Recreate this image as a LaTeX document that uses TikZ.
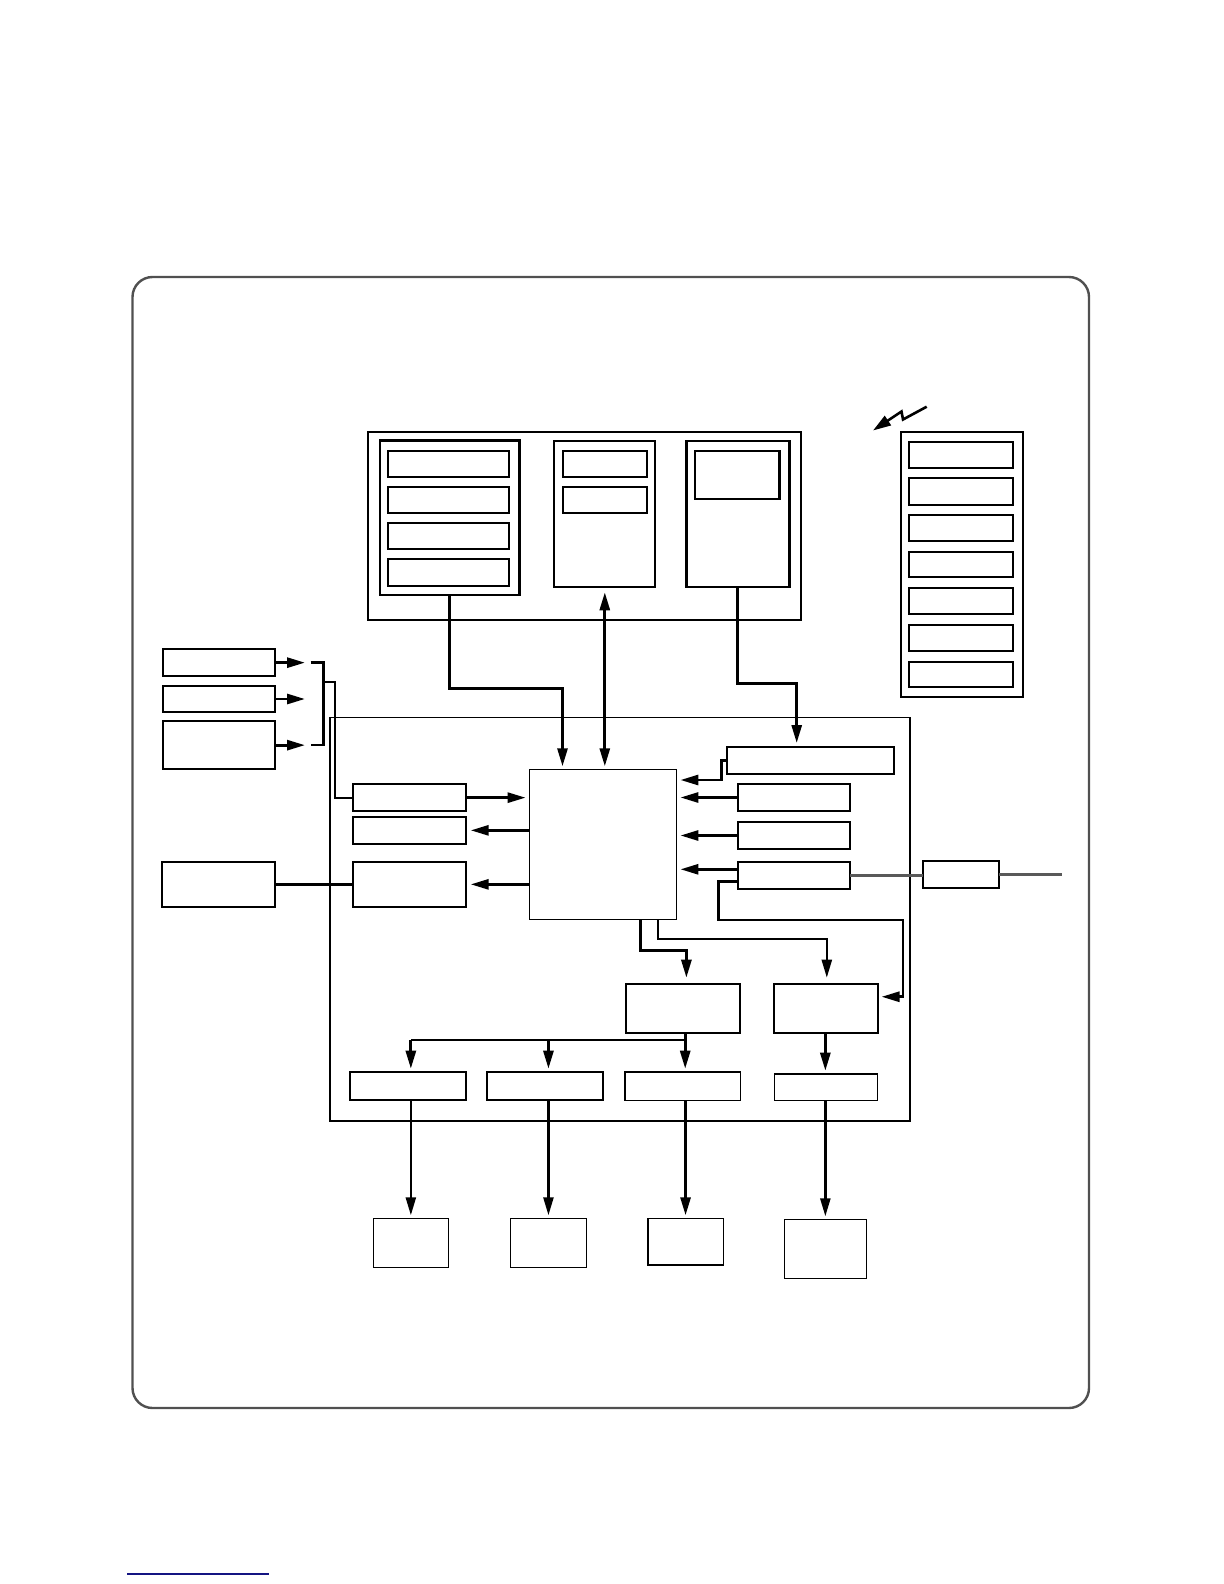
\documentclass[tikz,border=0pt]{standalone}
\usetikzlibrary{arrows.meta}
\definecolor{linkblue}{RGB}{20,20,130}
\definecolor{framegray}{RGB}{80,80,80}
\newcommand\bx[6][]{%
  \node[box,#1,minimum width={(#5-#3)*0.5pt},minimum height={(#6-#4)*0.5pt}] (#2) at ({(#3+#5)/2},{(#4+#6)/2}) {};}
\begin{document}
\begin{tikzpicture}[x=0.5pt,y=-0.5pt,
  box/.style={draw,line width=1pt,inner sep=0pt,outer sep=0pt},
  thinbox/.style={box,line width=0.7pt},
  conn/.style={line width=1.4pt},
  arr/.style={conn,-{Triangle[length=9pt,width=5pt]}},
  darr/.style={conn,{Triangle[length=9pt,width=5pt]}-{Triangle[length=9pt,width=5pt]}},
  gap/.style={shorten >=1.5pt},
  grayline/.style={line width=1.2pt,draw=black!65}]
\useasboundingbox (0,0) rectangle (1224,1584);

% outer frame
\draw[rounded corners=10pt,line width=1.2pt,draw=framegray] (132.5,277) rectangle (1089,1408);

% main container
\bx[line width=0.6pt]{main}{330}{717.3}{910}{1121}
\draw[line width=1.3pt] (main.north east) -- (main.south east) -- (main.south west);

% top block
\bx[line width=0.9pt]{T}{367.7}{432.3}{800.7}{620}
\bx[line width=1.3pt]{G1}{380}{440.7}{519.3}{595}
\bx{G1a}{388.3}{450.7}{509}{476.7}
\bx{G1b}{388.3}{486.7}{509}{513.3}
\bx{G1c}{388.3}{523.3}{509}{549.3}
\bx{G1d}{388.3}{559.3}{509}{585.7}
\bx{G2}{554.3}{440.7}{655.3}{586.7}
\bx{G2a}{563.3}{450.7}{646.7}{476.7}
\bx{G2b}{563.3}{486.7}{646.7}{513.3}
\bx[line width=1.2pt]{G3}{686.3}{440.7}{789.3}{586.7}
\bx[line width=1.2pt]{G3a}{694.7}{450.7}{779.3}{499}

% right panel
\bx[line width=0.9pt]{P}{901}{431.7}{1022.7}{697}
\bx{P1}{909.3}{441.7}{1012.7}{468.3}
\bx{P2}{909.3}{478.3}{1012.7}{505}
\bx{P3}{909.3}{515}{1012.7}{541}
\bx{P4}{909.3}{551.7}{1012.7}{577.3}
\bx{P5}{909.3}{588.3}{1012.7}{614.3}
\bx{P6}{909.3}{625}{1012.7}{651}
\bx{P7}{909.3}{661.7}{1012.7}{687}

% lightning
\coordinate (z1) at (926.7,406.7);
\coordinate (z2) at (903,419.5);
\coordinate (z3) at (901.5,411.5);
\coordinate (z4) at (873,430.5);
\draw[line width=1.3pt,-{Triangle[length=9pt,width=5.5pt]}] (z1) -- (z2) -- (z3) -- (z4);

% left boxes
\bx{L1}{163.3}{649.3}{275.3}{676}
\bx{L2}{163.3}{685.7}{275.3}{712.3}
\bx{L3}{163.3}{721.3}{275.3}{769}
\bx{L4}{161.7}{861.7}{275}{907}

% middle-left boxes
\bx{M1}{352.7}{784}{466.3}{811.3}
\bx{M2}{352.7}{816.7}{466.3}{844}
\bx{M3}{352.7}{861.7}{466.3}{907}

% centre
\bx[line width=0.8pt]{C}{529.6}{769.3}{676.4}{919.3}

% right boxes
\bx{R1}{726.8}{747}{894.3}{773.7}
\bx{R2}{737.9}{783.7}{850.4}{811.3}
\bx{R3}{737.9}{822}{850.4}{849}
\bx{R4}{737.9}{862}{850.4}{889}
\bx{R5}{923.2}{860.7}{999.3}{888}

% lower boxes
\bx{A}{626}{983.7}{740.3}{1033}
\bx{B}{774.3}{983.7}{877.5}{1033}
\bx{C1}{349.6}{1071.7}{466.1}{1100.3}
\bx{C2}{486.9}{1071.7}{603}{1100.3}
\bx[line width=0.8pt]{C3}{624.9}{1071.7}{740.3}{1100.3}
\bx[line width=0.8pt]{C4}{774.3}{1073.7}{877.5}{1100.3}
\bx[line width=0.8pt]{D1}{373.3}{1218.3}{448.4}{1267.3}
\bx[line width=0.8pt]{D2}{510.5}{1218.3}{586.4}{1267.3}
\bx[line width=0.8pt]{D3}{647.8}{1218.3}{723.3}{1265}
\bx[line width=0.8pt]{D4}{784.3}{1219.3}{866.4}{1278.3}

% connectors: top block to centre
\coordinate (k1) at (562.5,688.3);
\draw[arr,gap] (G1.south) |- (k1) -- (k1 |- C.north);
\draw[darr,shorten <=2.8pt,shorten >=1.5pt] (G2.south) -- (G2.south |- C.north);
\coordinate (k3) at (796.7,683.7);
\draw[arr,shorten >=2pt] (G3.south) |- (k3) -- (k3 |- R1.north);

% right boxes to centre
\coordinate (k4) at (721.4,780);
\draw[arr,shorten >=2pt] (R1.west) -| (k4) -- (k4 -| C.east);
\draw[arr,shorten >=2pt] (R2.west) -- (R2.west -| C.east);
\draw[arr,shorten >=2pt] (R3.west) -- (R3.west -| C.east);
\draw[arr,shorten >=2pt] ([yshift=3.1pt]R4.west) -- ([yshift=3.1pt]R4.west -| C.east);

% left side
\draw[arr,shorten >=2pt] (M1.east) -- (M1.east -| C.west);
\draw[arr,shorten >=2.2pt] (M2.east -| C.west) -- (M2.east);
\draw[arr,shorten >=2.2pt] (M3.east -| C.west) -- (M3.east);
\draw[conn] (L4.east) -- (M3.west);

\coordinate (la) at (305,0);
\draw[arr] (L1.east) -- (L1.east -| la);
\draw[arr] (L2.east) -- (L2.east -| la);
\draw[arr] (L3.east) -- (L3.east -| la);
\coordinate (b1) at (310.7,662.3);
\coordinate (b2) at (323.3,745);
\coordinate (b3) at (310.7,745);
\draw[conn] (b1) -| (b2) -- (b3);
\coordinate (bm) at (323.3,682.3);
\coordinate (k5) at (335,0);
\draw[line width=0.9pt] (bm) -| (k5 |- M1.west) -- (M1.west);

% centre to lower boxes
\coordinate (k6) at (640.4,950.7);
\coordinate (k6b) at (686.4,950.7);
\draw[arr,shorten >=3pt] (C.south -| k6) -- (k6) -- (k6b) -- (k6b |- A.north);
\coordinate (k7) at (658.2,938.7);
\coordinate (k7b) at (826.8,938.7);
\draw[line width=1.2pt,-{Triangle[length=9pt,width=5pt]},shorten >=3pt] (C.south -| k7) -- (k7) -- (k7b) -- (k7b |- B.north);

% R4 loop to B
\coordinate (k8) at (718.2,920);
\coordinate (k8b) at (902.9,920);
\draw[arr,shorten >=2pt] ([yshift=-3.1pt]R4.west) -| (k8) -- (k8b) |- ([yshift=5.8pt]B.east);

% R4 to R5 and beyond
\coordinate (gend) at (1061.8,0);
\draw[grayline] (R4.east) -- (R4.east -| R5.west);
\draw[grayline] (R5.east) -- (R5.east -| gend);

% bus
\coordinate (bus) at (685.2,1040);
\draw[conn] (bus) -- (bus -| D1.north);
\draw[arr,gap] (A.south -| bus) -- (bus |- C3.north);
\draw[arr,gap] (bus -| D1.north) -- (D1.north |- C1.north);
\draw[arr,gap] (bus -| D2.north) -- (D2.north |- C2.north);
\draw[arr,gap] (B.south -| D4.north) -- (D4.north |- C4.north);

% rows to bottom boxes
\draw[line width=1.2pt,-{Triangle[length=9pt,width=5pt]},gap] (D1.north |- C1.south) -- (D1.north);
\draw[line width=1.2pt,-{Triangle[length=9pt,width=5pt]},gap] (D2.north |- C2.south) -- (D2.north);
\draw[arr,gap] (D3.north |- C3.south) -- (D3.north);
\draw[line width=1.2pt,-{Triangle[length=9pt,width=5pt]},gap] (D4.north |- C4.south) -- (D4.north);

% link underline at bottom
\draw[line width=0.7pt,draw=linkblue] (127,1574) -- (269,1574);
\end{tikzpicture}
\end{document}
